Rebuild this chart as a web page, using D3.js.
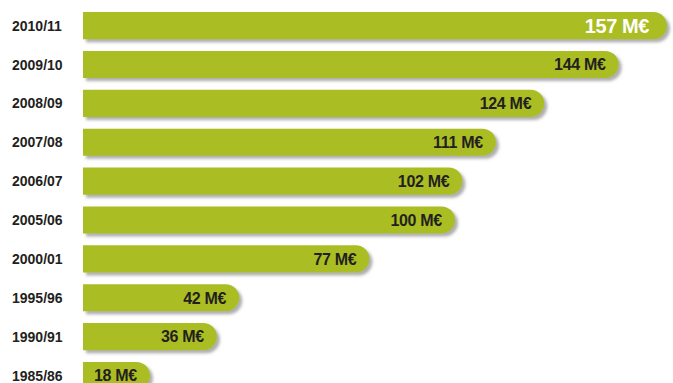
<!DOCTYPE html>
<html>
<head>
<meta charset="utf-8">
<script src="https://cdn.jsdelivr.net/npm/d3@7"></script>
<style>
  body { margin: 0; background: #fff; }
  svg { display: block; }
</style>
</head>
<body>
<div id="chart"></div>
<script>
const years = ['2010/11', '2009/10', '2008/09', '2007/08', '2006/07', '2005/06', '2000/01', '1995/96', '1990/91', '1985/86'];
const values = [157, 144, 124, 111, 102, 100, 77, 42, 36, 18];
const unit = 'M€';

const width = 673;
const height = 383;
const margin = {top: 12, left: 83, right: 6};

const svg = d3.select('#chart')
  .append('svg')
  .attr('width', width)
  .attr('height', height)
  .attr('viewBox', [0, 0, width, height]);

// soft grey shadow under each bar
const filter = svg.append('defs').append('filter')
  .attr('id', 'shadow')
  .attr('x', '-5%').attr('y', '-30%')
  .attr('width', '115%').attr('height', '180%');
filter.append('feDropShadow')
  .attr('dx', 3).attr('dy', 3)
  .attr('stdDeviation', 1.8)
  .attr('flood-color', '#6d6d6d')
  .attr('flood-opacity', 0.55);

const x = d3.scaleLinear()
  .domain([0, 157])
  .range([margin.left, width - margin.right]);

const y = d3.scaleBand()
  .domain(years)
  .range([margin.top, margin.top + 10 * 38.9 - 11.9])
  .paddingInner(0.3)
  .paddingOuter(0);

const h = y.bandwidth();

function barPath(v, yr) {
  const x0 = x(0), x1 = x(v), top = y(yr), r = h / 2;
  return `M${x0},${top}H${x1 - r}A${r},${r} 0 0 1 ${x1 - r},${top + h}H${x0}Z`;
}

const rows = years.map((yr, i) => ({year: yr, value: values[i], i}));

svg.append('g')
  .selectAll('path')
  .data(rows)
  .join('path')
    .attr('d', d => barPath(d.value, d.year))
    .attr('fill', '#aabd24')
    .attr('filter', 'url(#shadow)');

// year labels
svg.append('g')
  .attr('font-family', 'Liberation Sans, Arial, sans-serif')
  .attr('font-weight', 'bold')
  .attr('font-size', '14px')
  .attr('fill', '#231f20')
  .selectAll('text')
  .data(rows)
  .join('text')
    .attr('x', 12)
    .attr('y', d => y(d.year) + h / 2)
    .attr('dy', '0.36em')
    .text(d => d.year);

// value labels inside the bars
svg.append('g')
  .attr('font-family', 'Liberation Sans, Arial, sans-serif')
  .attr('font-weight', 'bold')
  .attr('text-anchor', 'end')
  .selectAll('text')
  .data(rows)
  .join('text')
    .attr('x', d => x(d.value) - (d.i === 0 ? 18 : 13))
    .attr('y', d => y(d.year) + h / 2)
    .attr('dy', '0.36em')
    .attr('font-size', d => d.i === 0 ? '20px' : '16px')
    .attr('letter-spacing', d => d.i === 0 ? '-0.4px' : '-0.3px')
    .attr('fill', d => d.i === 0 ? '#ffffff' : '#231f20')
    .text(d => `${d.value} ${unit}`);
</script>
</body>
</html>
